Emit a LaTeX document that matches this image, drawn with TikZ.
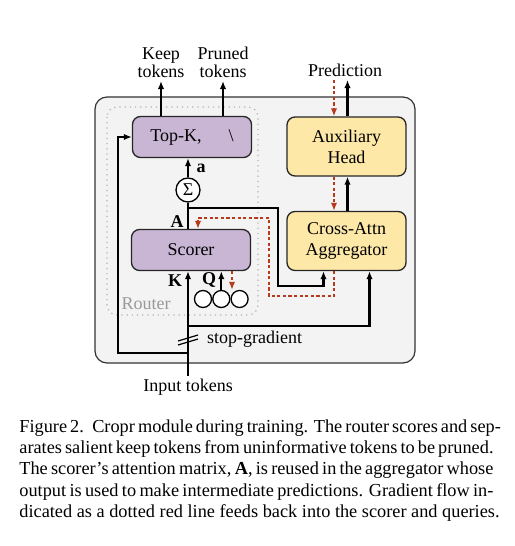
\documentclass[tikz,border=0pt]{standalone}
\usepackage{fontspec}
\setmainfont{Liberation Serif}
\usetikzlibrary{arrows.meta, positioning}
\definecolor{routerpurple}{HTML}{C8B6D4}
\definecolor{headyellow}{HTML}{FDE8A8}
\definecolor{panelgray}{HTML}{F3F3F3}
\definecolor{gradred}{HTML}{B83A1E}
\newcommand{\capline}[1]{\makebox[237pt][s]{#1}}

\begin{document}
\begin{tikzpicture}[
  x=0.5pt, y=-0.5pt,
  every node/.style={font=\fontsize{9}{10.5}\selectfont},
  block/.style={draw=black!85, line width=0.65pt, rounded corners=4pt, minimum width=59.5pt, align=center, inner sep=1pt},
  scorebox/.style={block, fill=routerpurple, minimum height=20.5pt},
  headbox/.style={block, fill=headyellow, minimum height=29.5pt},
  label/.style={align=center, inner sep=1.5pt, font=\fontsize{9}{9}\selectfont},
  arrow/.style={-{Latex[length=4pt, width=3.2pt]}, line width=1.1pt},
  flow/.style={line width=1.1pt},
  grad/.style={-{Latex[length=4pt, width=3.2pt]}, gradred, line width=0.8pt, dash pattern=on 1.6pt off 1.2pt},
  token/.style={circle, draw, line width=0.65pt, fill=white, minimum size=8.5pt, inner sep=0pt}
]
\useasboundingbox (0,0) rectangle (514,546);

% panels
\draw[fill=panelgray, draw=black!80, line width=0.6pt, rounded corners=6pt] (95,97) rectangle (415,363);
\draw[gray!60, dotted, line width=0.6pt, rounded corners=5pt] (107,107) rectangle (258,315);
\node[text=gray!80] (router) at (146,304) {Router};

% router blocks
\node (topk) [scorebox] at (192,137) {Top-K,\hspace{13.5pt}\textbackslash};
\node (scorer) [scorebox] at (191,250) {Scorer};
\node (sum) [circle, draw, line width=0.65pt, fill=white, minimum size=12pt, inner sep=0pt] at (188,190) {Σ};
\node (q1) [token] at (203,299) {};
\node (q2) [token, right=0pt of q1] {};
\node (q3) [token, right=0pt of q2] {};

% head blocks
\node (aux) [headbox] at (346.5,146.5) {Auxiliary\\Head};
\node (cross) [headbox] at (346.5,241) {Cross-Attn\\Aggregator};

% outer labels
\node (keep) [label, anchor=south] at (161,81) {Keep\\tokens};
\node (pruned) [label, anchor=south] at (223,81) {Pruned\\tokens};
\node (pred) [label, anchor=south] at (345,80) {Prediction};
\node (input) [label, anchor=north] at (188,376) {Input tokens};

% top-k outputs
\draw[arrow] (keep.south |- topk.north) -- (keep.south);
\draw[arrow] (pruned.south |- topk.north) -- (pruned.south);
\draw[arrow] (sum.north) -- (sum.north |- topk.south);
\node (avec) at (201,168) {\textbf{a}};
\draw[flow] (sum.south |- scorer.north) -- (sum.south);
\node (amat) at (177,222) {\textbf{A}};

% scorer inputs
\draw[arrow] (input.north) -- (input.north |- scorer.south);
\node (kvec) at (175,281) {\textbf{K}};
\draw[arrow] (q2.north) -- (q2.north |- scorer.south);
\node (qvec) at (209,280) {\textbf{Q}};
\draw[grad] ([xshift=20.5pt]scorer.south) -- ([xshift=20.5pt]scorer.south |- q3.north);

% attention matrix to aggregator
\coordinate (asplit) at (188,208);
\coordinate (abend) at (278,286);
\draw[arrow] (asplit) -| (abend) -| ([xshift=-11.5pt]cross.south);

% stop-gradient branch
\coordinate (sgsplit) at (188,326);
\draw[arrow] (sgsplit) -| ([xshift=11.5pt]cross.south);
\coordinate (sg) at (188,340);
\draw[line width=0.6pt] ([shift={(-10,5)}]sg) -- ([shift={(10,-1)}]sg);
\draw[line width=0.6pt] ([shift={(-10,1)}]sg) -- ([shift={(10,-5)}]sg);
\node[anchor=west] (sglabel) at (200,339) {stop-gradient};

% loop to top-k
\coordinate (loopsplit) at (188,353);
\coordinate (loopbend) at (118,353);
\draw[arrow] (loopsplit) -- (loopbend) |- (topk.west);

% head connections
\draw[arrow] ([xshift=0.5pt]cross.north) -- ([xshift=0.5pt]aux.south);
\draw[grad] ([xshift=-6.25pt]aux.south) -- ([xshift=-6.25pt]cross.north);
\draw[arrow] ([xshift=0.5pt]aux.north) -- ([xshift=0.5pt]aux.north |- pred.south);
\draw[grad] ([xshift=-6.25pt]aux.north |- pred.south) -- ([xshift=-6.25pt]aux.north);

% gradient back into scorer
\coordinate (gradbend) at (269,296);
\coordinate (gradtop) at (269,218);
\draw[grad] ([xshift=-6.25pt]cross.south) |- (gradbend) -- (gradtop) -| ([xshift=3.5pt]scorer.north);

% caption
\node[anchor=north west, align=left, inner sep=0pt, font=\fontsize{9.15}{10.65}\selectfont] (caption) at (19,419) {%
  \capline{Figure 2.\hspace{0.15em} Cropr module during training. The router scores and sep-}\\
  \capline{arates salient keep tokens from uninformative tokens to be pruned.}\\
  \capline{The scorer’s attention matrix, \textbf{A}, is reused in the aggregator whose}\\
  \capline{output is used to make intermediate predictions. Gradient flow in-}\\
  dicated as a dotted red line feeds back into the scorer and queries.};

\end{tikzpicture}
\end{document}
